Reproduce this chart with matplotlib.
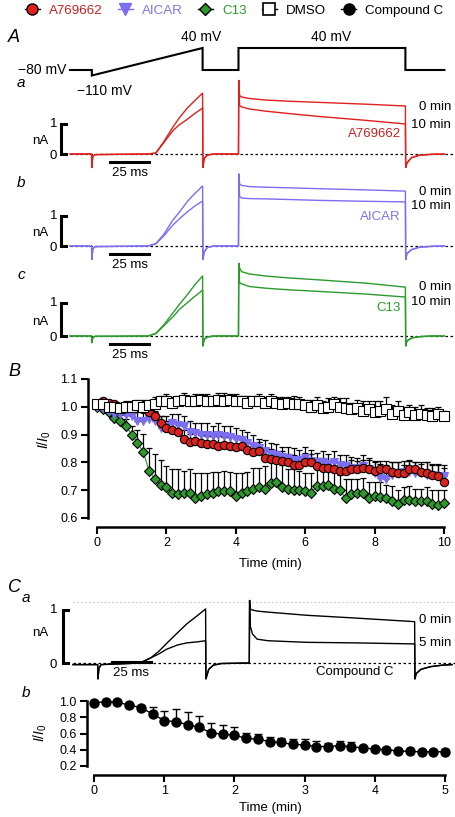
import numpy as np
import matplotlib.pyplot as plt
from matplotlib.lines import Line2D

plt.rcParams['font.family'] = ['Liberation Sans', 'DejaVu Sans']
plt.rcParams['mathtext.fontset'] = 'custom'
plt.rcParams['mathtext.rm'] = 'Liberation Sans'
plt.rcParams['mathtext.it'] = 'Liberation Sans:italic'

W, H = 455, 817

RED = '#e0201c'
BLUE = '#7b6ef0'
GREEN = '#2c9b2c'
RED_TXT = '#cc1f1f'
BLUE_TXT = '#7f74e6'
GREEN_TXT = '#2e9a2e'

# ---------------- data ----------------
# voltage protocol (ms, mV)
prot_t = [0, 14, 14, 85, 85, 108, 108, 215, 215, 240]
prot_v = [-80, -80, -110, 40, -80, -80, 40, 40, -80, -80]

# panel A current traces (ms, nA)
trace_t = [0, 13.8, 14, 14.6, 16, 50, 55, 60, 66, 70, 75, 80, 85, 85.2, 86, 88, 92,
           108, 108.2, 108.7, 110, 115, 125, 140, 160, 190, 215,
           215.2, 216, 219, 224, 232, 240]
a769_0 = [0, 0, -0.45, -0.08, -0.02, 0, 0.03, 0.4, 0.9, 1.2, 1.52, 1.78, 2.03, -0.45, -0.15, -0.04, 0,
          0, 2.45, 1.95, 1.9, 1.85, 1.8, 1.76, 1.72, 1.66, 1.6,
          -0.45, -0.3, -0.12, -0.04, -0.01, 0]
a769_10 = [0, 0, -0.45, -0.08, -0.02, 0, 0.03, 0.37, 0.78, 0.97, 1.15, 1.35, 1.53, -0.45, -0.15, -0.04, 0,
           0, 2.45, 1.62, 1.57, 1.5, 1.43, 1.35, 1.25, 1.12, 1.0,
           -0.45, -0.3, -0.12, -0.04, -0.01, 0]
aicar_0 = [0, 0, -0.45, -0.1, -0.02, 0, 0.08, 0.38, 0.87, 1.12, 1.47, 1.75, 2.0, -0.45, -0.2, -0.05, 0,
           0, 2.4, 2.07, 2.02, 1.98, 1.96, 1.94, 1.91, 1.87, 1.83,
           -0.45, -0.25, -0.12, -0.04, -0.01, 0]
aicar_10 = [0, 0, -0.45, -0.1, -0.02, 0, 0.07, 0.33, 0.7, 0.9, 1.13, 1.33, 1.5, -0.45, -0.2, -0.05, 0,
            0, 2.4, 1.65, 1.6, 1.58, 1.57, 1.55, 1.52, 1.49, 1.47,
            -0.45, -0.25, -0.12, -0.04, -0.01, 0]
c13_0 = [0, 0, -0.2, -0.05, -0.01, 0, 0.08, 0.33, 0.7, 0.95, 1.24, 1.55, 1.82, -0.3, -0.1, -0.03, 0,
         0, 2.2, 2.06, 1.95, 1.88, 1.82, 1.76, 1.7, 1.6, 1.48,
         -0.3, -0.15, -0.06, -0.02, 0, 0]
c13_10 = [0, 0, -0.2, -0.05, -0.01, 0, 0.07, 0.3, 0.58, 0.8, 1.0, 1.2, 1.39, -0.3, -0.1, -0.03, 0,
          0, 2.2, 1.62, 1.58, 1.5, 1.45, 1.4, 1.35, 1.27, 1.18,
          -0.3, -0.15, -0.06, -0.02, 0, 0]

# panel C a traces (ms, nA)
trace_t_cc = [0, 15.8, 16, 16.6, 18, 43, 50, 55, 60, 67, 73, 80, 85, 85.2, 87, 90, 95,
              113, 113.2, 113.6, 115, 118, 125, 150, 180, 219,
              219.2, 220, 223, 229, 237, 243]
cc_0 = [-0.03, -0.03, -0.3, -0.1, -0.03, 0, 0.1, 0.22, 0.37, 0.57, 0.74, 0.9, 1.02, -0.3, -0.12, -0.04, -0.01,
        0, 1.18, 1.02, 1.0, 0.98, 0.96, 0.9, 0.85, 0.78,
        -0.3, -0.2, -0.12, -0.07, -0.04, -0.03]
cc_5 = [-0.03, -0.03, -0.3, -0.1, -0.03, 0, 0.1, 0.17, 0.26, 0.34, 0.38, 0.4, 0.42, -0.3, -0.12, -0.04, -0.01,
        0, 1.18, 0.7, 0.55, 0.45, 0.42, 0.39, 0.38, 0.36,
        -0.3, -0.2, -0.12, -0.07, -0.04, -0.03]

# panel B time course, one point every 10 s
time_b = np.linspace(0, 10, 61)
dmso_b = [1.01, 1.01, 1.0, 1.0, 0.995, 1.0, 1.0, 1.005, 1.0, 1.005,
          1.01, 1.02, 1.02, 1.015, 1.02, 1.025, 1.02, 1.02, 1.025, 1.02,
          1.02, 1.025, 1.02, 1.025, 1.02, 1.02, 1.015, 1.02, 1.02, 1.015,
          1.02, 1.015, 1.01, 1.015, 1.01, 1.01, 1.005, 1.0, 1.005, 0.995,
          1.0, 1.01, 1.0, 0.995, 0.99, 0.995, 0.985, 0.99, 0.98, 0.985,
          0.99, 0.975, 0.985, 0.97, 0.98, 0.97, 0.975, 0.97, 0.965, 0.975, 0.965]
dmso_err = [0.01, 0.01, 0.01, 0.015, 0.02, 0.02, 0.02, 0.02, 0.025, 0.02,
            0.025, 0.02, 0.025, 0.02, 0.02, 0.025, 0.02, 0.025, 0.02, 0.025,
            0.02, 0.025, 0.03, 0.02, 0.025, 0.02, 0.025, 0.02, 0.025, 0.02,
            0.025, 0.02, 0.025, 0.02, 0.03, 0.025, 0.02, 0.025, 0.03, 0.025,
            0.03, 0.025, 0.03, 0.035, 0.025, 0.03, 0.035, 0.03, 0.04, 0.035,
            0.045, 0.03, 0.035, 0.03, 0.025, 0.03, 0.03, 0.025, 0.03, 0.025, 0.02]
a769_b = [1.01, 1.02, 1.015, 1.01, 1.0, 1.0, 1.0, 0.995, 0.99, 0.98,
          0.965, 0.94, 0.925, 0.915, 0.91, 0.885, 0.873, 0.877, 0.87, 0.865,
          0.865, 0.86, 0.862, 0.86, 0.855, 0.857, 0.845, 0.838, 0.842, 0.815,
          0.812, 0.81, 0.805, 0.8, 0.79, 0.79, 0.8, 0.8, 0.785, 0.78,
          0.78, 0.775, 0.77, 0.77, 0.775, 0.775, 0.78, 0.775, 0.77, 0.775,
          0.775, 0.765, 0.76, 0.76, 0.775, 0.775, 0.765, 0.76, 0.755, 0.75, 0.73]
a769_err = [0.01, 0.01, 0.01, 0.01, 0.015, 0.015, 0.015, 0.02, 0.02, 0.02,
            0.02, 0.025, 0.025, 0.025, 0.03, 0.03, 0.03, 0.03, 0.03, 0.03,
            0.03, 0.035, 0.03, 0.03, 0.035, 0.03, 0.035, 0.03, 0.03, 0.035,
            0.035, 0.03, 0.035, 0.03, 0.035, 0.03, 0.035, 0.03, 0.03, 0.035,
            0.03, 0.035, 0.03, 0.03, 0.035, 0.03, 0.03, 0.035, 0.03, 0.03,
            0.03, 0.035, 0.04, 0.03, 0.03, 0.025, 0.03, 0.04, 0.035, 0.04, 0.05]
aicar_b = [1.0, 0.995, 0.985, 0.975, 0.975, 0.97, 0.965, 0.95, 0.95, 0.955,
           0.95, 0.925, 0.93, 0.94, 0.935, 0.93, 0.91, 0.905, 0.9, 0.9,
           0.895, 0.9, 0.895, 0.89, 0.885, 0.88, 0.87, 0.86, 0.85, 0.84,
           0.83, 0.825, 0.82, 0.815, 0.81, 0.81, 0.815, 0.805, 0.8, 0.8,
           0.795, 0.8, 0.79, 0.785, 0.78, 0.78, 0.785, 0.775, 0.76, 0.745,
           0.74, 0.755, 0.76, 0.765, 0.765, 0.76, 0.76, 0.755, 0.755, 0.75, 0.75]
aicar_err = [0.01, 0.01, 0.015, 0.02, 0.02, 0.025, 0.025, 0.03, 0.03, 0.03,
             0.03, 0.04, 0.035, 0.035, 0.04, 0.035, 0.04, 0.035, 0.04, 0.04,
             0.035, 0.04, 0.035, 0.04, 0.04, 0.035, 0.04, 0.04, 0.035, 0.04,
             0.04, 0.04, 0.035, 0.04, 0.04, 0.035, 0.04, 0.04, 0.035, 0.04,
             0.035, 0.04, 0.035, 0.04, 0.04, 0.035, 0.04, 0.04, 0.045, 0.05,
             0.05, 0.045, 0.04, 0.04, 0.045, 0.04, 0.04, 0.045, 0.04, 0.045, 0.04]
c13_b = [1.0, 0.99, 0.98, 0.96, 0.95, 0.93, 0.9, 0.87, 0.837, 0.77,
         0.74, 0.72, 0.71, 0.69, 0.685, 0.69, 0.69, 0.67, 0.68, 0.685,
         0.69, 0.695, 0.695, 0.695, 0.68, 0.69, 0.695, 0.705, 0.71, 0.705,
         0.725, 0.73, 0.71, 0.705, 0.7, 0.7, 0.695, 0.69, 0.715, 0.715,
         0.72, 0.705, 0.7, 0.67, 0.685, 0.69, 0.69, 0.67, 0.68, 0.675,
         0.67, 0.66, 0.65, 0.665, 0.665, 0.66, 0.66, 0.66, 0.65, 0.645, 0.655]
c13_err = [0.01, 0.01, 0.015, 0.015, 0.02, 0.025, 0.03, 0.045, 0.065, 0.08,
           0.09, 0.09, 0.075, 0.085, 0.09, 0.08, 0.085, 0.09, 0.08, 0.075,
           0.075, 0.07, 0.075, 0.07, 0.08, 0.07, 0.07, 0.075, 0.07, 0.08,
           0.075, 0.07, 0.08, 0.07, 0.075, 0.07, 0.065, 0.07, 0.06, 0.06,
           0.055, 0.06, 0.055, 0.07, 0.055, 0.05, 0.055, 0.06, 0.05, 0.055,
           0.05, 0.055, 0.05, 0.045, 0.05, 0.045, 0.045, 0.05, 0.05, 0.055, 0.045]

# panel C b time course
time_cc = np.linspace(0, 5, 31)
cc_b = [0.98, 0.99, 0.985, 0.95, 0.92, 0.84, 0.76, 0.745, 0.71, 0.675,
        0.61, 0.59, 0.58, 0.54, 0.53, 0.5, 0.49, 0.465, 0.46, 0.44,
        0.44, 0.45, 0.44, 0.42, 0.41, 0.4, 0.385, 0.38, 0.375, 0.375, 0.375]
cc_err = [0.01, 0.01, 0.01, 0.01, 0.01, 0.09, 0.12, 0.16, 0.15, 0.135,
          0.12, 0.11, 0.1, 0.07, 0.07, 0.06, 0.05, 0.065, 0.07, 0.07,
          0.04, 0.06, 0.05, 0.02, 0.02, 0.02, 0.02, 0.02, 0.02, 0.02, 0.04]

# ---------------- layout helpers (pixel based) ----------------
fig = plt.figure(figsize=(W / 100, H / 100), dpi=100)


def px_axes(box, xmap, ymap):
    x0, y0, x1, y1 = box
    ax = fig.add_axes([x0 / W, 1 - y1 / H, (x1 - x0) / W, (y1 - y0) / H])
    px, v, s = xmap
    ax.set_xlim(v + (x0 - px) / s, v + (x1 - px) / s)
    py, u, k = ymap
    ax.set_ylim(u - (y1 - py) / k, u - (y0 - py) / k)
    return ax


def ftext(x, y, s, **kw):
    kw.setdefault('va', 'center')
    fig.text(x / W, 1 - y / H, s, **kw)


PX_MS = 1.56

# legend
handles = [
    Line2D([], [], color='k', lw=1, marker='o', ms=8, mfc=RED, mec='k'),
    Line2D([], [], color=BLUE, lw=1, marker='v', ms=8, mfc=BLUE, mec=BLUE),
    Line2D([], [], color='k', lw=1, marker='D', ms=6.5, mfc=GREEN, mec='k'),
    Line2D([], [], color='k', lw=1, marker='s', ms=8, mfc='white', mec='k', mew=1.2),
    Line2D([], [], color='k', lw=1, marker='o', ms=8, mfc='k', mec='k'),
]
labels = ['A769662', 'AICAR', 'C13', 'DMSO', 'Compound C']
leg = fig.legend(handles, labels, loc='center', bbox_to_anchor=(0.515, 1 - 11 / H),
                 ncol=5, frameon=False, fontsize=9.6, handlelength=1.1,
                 handletextpad=0.7, columnspacing=1.15, borderpad=0)
for txt, c in zip(leg.get_texts(), [RED_TXT, BLUE_TXT, GREEN_TXT, 'k', 'k']):
    txt.set_color(c)

# ---------------- panel A ----------------
ftext(8, 37, 'A', fontsize=13, style='italic')

axp = px_axes((0, 28, 455, 82), (70, 0, PX_MS), (70, -80, 22 / 120))
axp.axis('off')
axp.plot(prot_t, prot_v, color='k', lw=1.5, solid_joinstyle='miter')
ftext(66, 70, '\u221280 mV', fontsize=10, ha='right')
ftext(77, 91, '\u2212110 mV', fontsize=10, ha='left')
ftext(201, 37, '40 mV', fontsize=10, ha='center')
ftext(331, 37, '40 mV', fontsize=10, ha='center')


def trace_panel(box, x0px, zero_px, px_nA, tt, i0, i1, color):
    ax = px_axes(box, (x0px, 0, PX_MS), (zero_px, 0, px_nA))
    ax.axis('off')
    ax.plot([tt[0], tt[-1] + 6], [0, 0], color='k', lw=0.9, ls=(0, (2, 2)), zorder=1)
    ax.plot(tt, i1, color=color, lw=1.0, zorder=2)
    ax.plot(tt, i0, color=color, lw=1.0, zorder=3)
    return ax


def scale_bars(ax, tb, yb):
    ax.plot([tb + 3.5, tb, tb, tb + 3.5], [1, 1, 0, 0], color='k', lw=2.2,
            solid_joinstyle='miter', clip_on=False)
    ax.plot([25.6, 50.6], [yb, yb], color='k', lw=2.2, clip_on=False)


panels = [
    ('a', 83, 154, 30, a769_0, a769_10, RED, RED_TXT, 'A769662', 107, 125, 134),
    ('b', 183, 246, 30, aicar_0, aicar_10, BLUE, BLUE_TXT, 'AICAR', 192, 206, 217),
    ('c', 275, 336, 33, c13_0, c13_10, GREEN, GREEN_TXT, 'C13', 287, 302, 308),
]
for lab, ylab, zero, k, i0, i1, col, tcol, name, y0m, y10m, yname in panels:
    ftext(17, ylab, lab, fontsize=11, style='italic')
    ax = trace_panel((0, zero - 80, 455, zero + 22), 70, zero, k, trace_t, i0, i1, col)
    yb = -8 / k
    scale_bars(ax, -5.8, yb)
    ftext(129.5, zero + 19, '25 ms', fontsize=9.5, ha='center')
    ftext(57, zero - k, '1', fontsize=9.5, ha='right')
    ftext(57, zero + 2, '0', fontsize=9.5, ha='right')
    ftext(48, zero - k / 2 + 2, 'nA', fontsize=9.5, ha='right')
    ftext(451, y0m, '0 min', fontsize=9.5, ha='right')
    ftext(451, y10m, '10 min', fontsize=9.5, ha='right')
    ftext(401, yname, name, fontsize=9.5, ha='right', color=tcol)

# ---------------- panel B ----------------
ftext(8, 372, 'B', fontsize=13, style='italic')
axb = px_axes((88, 370, 452, 527), (97, 0, 34.7), (406.7, 1.0, 278))
series = [
    (c13_b, c13_err, GREEN, 'D', 5, GREEN, 'k', 3),
    (aicar_b, aicar_err, BLUE, 'v', 6, BLUE, BLUE, 4),
    (a769_b, a769_err, 'k', 'o', 6, RED, 'k', 5),
    (dmso_b, dmso_err, 'k', 's', 6.5, 'white', 'k', 6),
]
for y, e, lc, m, ms, fc, ec, z in series:
    axb.errorbar(time_b, y, yerr=[np.zeros(len(e)), e], fmt='none', ecolor='k',
                 elinewidth=0.9, capsize=2.5, capthick=0.9, zorder=2)
    axb.plot(time_b, y, color=lc, lw=0.8, marker=m, ms=ms, mfc=fc, mec=ec,
             mew=0.8, zorder=z)

axb.spines[['top', 'right']].set_visible(False)
axb.spines['left'].set_bounds(0.6, 1.1)
axb.spines['bottom'].set_bounds(0, 10)
for s in ['left', 'bottom']:
    axb.spines[s].set_linewidth(1.8)
axb.set_yticks([0.6, 0.7, 0.8, 0.9, 1.0, 1.1])
axb.set_yticklabels(['0.6', '0.7', '0.8', '0.9', '1.0', '1.1'])
axb.set_xticks([0, 2, 4, 6, 8, 10])
axb.tick_params(labelsize=9, width=1.5, length=5, pad=2.5)
ftext(270, 564, 'Time (min)', fontsize=9.5, ha='center')
ftext(44, 440, r'$I/I_0$', fontsize=10, ha='center', rotation=90)

# ---------------- panel C ----------------
ftext(8, 587, 'C', fontsize=13, style='italic')
ftext(22, 598, 'a', fontsize=11, style='italic')
zc, kc = 663, 53
axc = px_axes((0, 596, 455, 690), (73, 0, PX_MS), (zc, 0, kc))
axc.axis('off')
axc.plot([trace_t_cc[0], trace_t_cc[-1] + 4], [0, 0], color='k', lw=0.9,
         ls=(0, (2, 2)), zorder=1)
axc.plot([trace_t_cc[0], trace_t_cc[-1] + 4], [1.15, 1.15], color='#c8c8c8',
         lw=0.8, ls=(0, (1.5, 2)), zorder=1)
axc.plot(trace_t_cc, cc_5, color='k', lw=1.0, zorder=2)
axc.plot(trace_t_cc, cc_0, color='k', lw=1.0, zorder=3)
axc.plot([-6.4 + 3.5, -6.4, -6.4, -6.4 + 3.5], [1, 1, 0, 0], color='k', lw=2.2,
         solid_joinstyle='miter', clip_on=False)
axc.plot([25, 50], [0.02, 0.02], color='k', lw=2.2, clip_on=False)
ftext(131, 673, '25 ms', fontsize=9.5, ha='center')
ftext(57, 610, '1', fontsize=9.5, ha='right')
ftext(57, 665, '0', fontsize=9.5, ha='right')
ftext(48, 633, 'nA', fontsize=9.5, ha='right')
ftext(451, 620, '0 min', fontsize=9.5, ha='right')
ftext(451, 643, '5 min', fontsize=9.5, ha='right')
ftext(393, 672, 'Compound C', fontsize=9.5, ha='right')

ftext(22, 693, 'b', fontsize=11, style='italic')
axcb = px_axes((87, 694, 452, 775), (94, 0, 70.2), (701, 1.0, 81.25))
axcb.errorbar(time_cc, cc_b, yerr=[np.zeros(len(cc_err)), cc_err], fmt='none',
              ecolor='k', elinewidth=1.0, capsize=3, capthick=1.0, zorder=2)
axcb.plot(time_cc, cc_b, color='k', lw=1.0, marker='o', ms=6.5, mfc='k',
          mec='k', zorder=3)
axcb.spines[['top', 'right']].set_visible(False)
axcb.spines['left'].set_bounds(0.2, 1.0)
axcb.spines['bottom'].set_bounds(0, 5)
for s in ['left', 'bottom']:
    axcb.spines[s].set_linewidth(1.8)
axcb.set_yticks([0.2, 0.4, 0.6, 0.8, 1.0])
axcb.set_yticklabels(['0.2', '0.4', '0.6', '0.8', '1.0'])
axcb.set_xticks([0, 1, 2, 3, 4, 5])
axcb.tick_params(labelsize=9, width=1.5, length=5, pad=2.5)
ftext(270, 808, 'Time (min)', fontsize=9.5, ha='center')
ftext(40, 733, r'$I/I_0$', fontsize=10, ha='center', rotation=90)

fig.savefig('out.png', dpi=100)
